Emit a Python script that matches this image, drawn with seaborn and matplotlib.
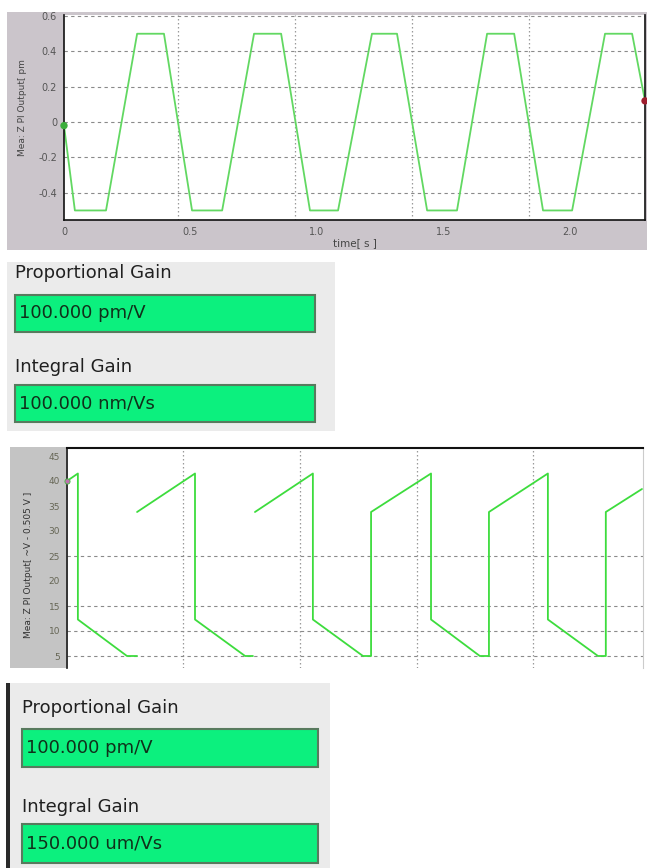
import numpy as np
import pandas as pd
import seaborn as sns
import matplotlib.pyplot as plt
from matplotlib.patches import Rectangle

# trace 1: Z PI output [pm] vs time [s]
t_top = [0, 0.043, 0.166, 0.289, 0.395, 0.506, 0.625, 0.751, 0.858, 0.972, 1.083,
         1.217, 1.316, 1.435, 1.553, 1.672, 1.779, 1.893, 2.008, 2.138, 2.245, 2.296]
z_top = [-0.02, -0.5, -0.5, 0.5, 0.5, -0.5, -0.5, 0.5, 0.5, -0.5, -0.5,
         0.5, 0.5, -0.5, -0.5, 0.5, 0.5, -0.5, -0.5, 0.5, 0.5, 0.12]

# trace 2: Z PI output [~V - 0.505 V], split where the recorder left gaps
t_bot = [0, 0.043, 0.043, 0.237, 0.277,
         0.277, 0.506, 0.506, 0.704, 0.735,
         0.743, 0.972, 0.972, 1.170, 1.202, 1.202, 1.439, 1.439, 1.632, 1.668,
         1.668, 1.901, 1.901, 2.099, 2.130, 2.130, 2.273]
z_bot = [40.0, 41.5, 12.3, 5, 5,
         33.8, 41.5, 12.3, 5, 5,
         33.8, 41.5, 12.3, 5, 5, 33.8, 41.5, 12.3, 5, 5,
         33.8, 41.5, 12.3, 5, 5, 33.8, 38.4]
seg_bot = [0] * 5 + [1] * 5 + [2] * 17

top_xticks = [0, 0.5, 1.0, 1.5, 2.0]
top_xlabels = ["0", "0.5", "1.0", "1.5", "2.0"]
top_yticks = [-0.4, -0.2, 0, 0.2, 0.4, 0.6]
top_ylabels = ["-0.4", "-0.2", "0", "0.2", "0.4", "0.6"]
bot_yticks = [5, 10, 15, 20, 25, 30, 35, 40, 45]

gain_names = ["Proportional Gain", "Integral Gain"]
gains_1 = ["100.000 pm/V", "100.000 nm/Vs"]
gains_2 = ["100.000 pm/V", "150.000 um/Vs"]

sns.set_style("white")
plt.rcParams["font.family"] = ["DejaVu Sans"]

W, H = 647, 868
fig = plt.figure(figsize=(W / 100, H / 100), dpi=100)


def box(x0, y0, x1, y1):
    return [x0 / W, 1 - y1 / H, (x1 - x0) / W, (y1 - y0) / H]


def rect(x0, y0, x1, y1, **kw):
    kw.setdefault("zorder", -2)
    fig.add_artist(Rectangle((x0 / W, 1 - y1 / H), (x1 - x0) / W, (y1 - y0) / H,
                             transform=fig.transFigure, **kw))


# background panels
rect(7, 12, 647, 250, facecolor="#cbc5cb", edgecolor="none")
rect(7, 262, 335, 431, facecolor="#ebebeb", edgecolor="none")
rect(10, 447, 66, 668, facecolor="#c4c4c4", edgecolor="none")
rect(9, 683, 330, 868, facecolor="#ebebeb", edgecolor="none")
rect(6, 683, 10, 868, facecolor="#2a2a2a", edgecolor="none")

# ---- top plot
ax1 = fig.add_axes(box(64, 15, 645, 220))
sns.lineplot(x=t_top, y=z_top, ax=ax1, color="#62d862", lw=1.3,
             sort=False, estimator=None)
sns.scatterplot(x=[t_top[0]], y=[z_top[0]], ax=ax1, color="#3cae3c", s=28,
                zorder=5, clip_on=False, edgecolor="none")
sns.scatterplot(x=[t_top[-1]], y=[z_top[-1]], ax=ax1, color="#9e1e2e", s=28,
                zorder=5, clip_on=False, edgecolor="none")
ax1.set_xlim(0, 2.296)
ax1.set_ylim(-0.554, 0.606)
ax1.set_xticks(top_xticks)
ax1.set_xticklabels(top_xlabels)
ax1.set_yticks(top_yticks)
ax1.set_yticklabels(top_ylabels)
ax1.set_xticks([0.451, 0.913, 1.375, 1.838], minor=True)
ax1.grid(which="major", axis="y", color="#8a8a8a", ls=(0, (3, 3)), lw=0.8)
ax1.grid(which="minor", axis="x", color="#9a9a9a", ls=(0, (1.2, 2)), lw=0.9)
ax1.tick_params(which="minor", length=0)
ax1.tick_params(which="major", direction="out", length=3, width=0.8,
                labelsize=7, labelcolor="#555555", color="#333333", pad=2)
ax1.set_xlabel("time[ s ]", fontsize=7.5, color="#444444", labelpad=1)
ax1.set_ylabel("Mea: Z PI Output[ pm", fontsize=6.5, color="#444444")
ax1.yaxis.set_label_coords(-0.064, 0.55)
for side in ["left", "bottom", "right"]:
    ax1.spines[side].set_color("#111111")
    ax1.spines[side].set_linewidth(1.2)
ax1.spines["top"].set_visible(False)

# ---- bottom plot
ax2 = fig.add_axes(box(67, 448, 643, 668))
df_bot = pd.DataFrame({"t": t_bot, "z": z_bot, "seg": seg_bot})
sns.lineplot(data=df_bot, x="t", y="z", units="seg", estimator=None, sort=False,
             ax=ax2, color="#3ddc3d", lw=1.3)
sns.scatterplot(x=[t_bot[0]], y=[z_bot[0]], ax=ax2, color="#c070b0", s=14,
                zorder=5, clip_on=False, edgecolor="#40c040", linewidth=0.6)
ax2.set_xlim(0, 2.277)
ax2.set_ylim(2.6, 46.6)
ax2.yaxis.remove_overlapping_locs = False
ax2.set_xticks([])
ax2.set_yticks(bot_yticks)
ax2.set_yticks([5, 10, 15, 25], minor=True)
ax2.set_xticks([0.458, 0.921, 1.383, 1.842], minor=True)
ax2.grid(which="minor", axis="y", color="#8a8a8a", ls=(0, (3, 3)), lw=0.8)
ax2.grid(which="minor", axis="x", color="#9a9a9a", ls=(0, (1.2, 2)), lw=0.9)
ax2.tick_params(which="minor", length=0)
ax2.tick_params(which="major", axis="y", direction="out", length=3, width=0.8,
                labelsize=6.5, labelcolor="#666655", color="#555555", pad=2)
ax2.set_xlabel("")
ax2.set_ylabel("Mea: Z PI Output[ ~V - 0.505 V ]", fontsize=6.5, color="#333333")
ax2.yaxis.set_label_coords(-0.059, 0.47)
ax2.spines["top"].set_color("#111111")
ax2.spines["top"].set_linewidth(1.5)
ax2.spines["left"].set_color("#111111")
ax2.spines["left"].set_linewidth(1.2)
ax2.spines["right"].set_color("#cccccc")
ax2.spines["bottom"].set_visible(False)

# ---- gain panels
panels = [
    (15, [273, 367], [(295, 332), (385, 422)], 315, gains_1),
    (22, [708, 807], [(729, 767), (824, 863)], 318, gains_2),
]
for x0, label_y, boxes_y, x1, vals in panels:
    for name, ly, (b0, b1), val in zip(gain_names, label_y, boxes_y, vals):
        fig.text(x0 / W, 1 - ly / H, name, fontsize=13, color="#202020",
                 ha="left", va="center")
        rect(x0, b0, x1, b1, facecolor="#0cf07e", edgecolor="#587a5e",
             linewidth=1.5, zorder=1)
        fig.text((x0 + 4) / W, 1 - (b0 + b1) / 2 / H, val, fontsize=13,
                 color="#10301a", ha="left", va="center", zorder=2)

fig.savefig("out.png", dpi=100)
